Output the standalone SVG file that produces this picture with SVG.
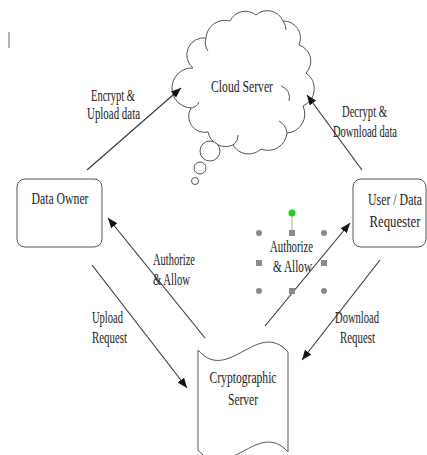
<svg xmlns="http://www.w3.org/2000/svg" width="427" height="455" viewBox="0 0 427 455">
<defs>
<style>
text{font-family:"Liberation Serif","Times New Roman",serif;font-size:16px;fill:#222;text-anchor:middle}
.shape{fill:#fff;stroke:#555;stroke-width:1}
.conn{stroke:#333;stroke-width:1.1;fill:none;marker-end:url(#ah)}
.hc{fill:#8a8a8a}
</style>
<marker id="ah" markerUnits="userSpaceOnUse" markerWidth="10" markerHeight="8" refX="10" refY="4" orient="auto">
<path d="M0,0 L10,4 L0,8 z" fill="#111"/>
</marker>
</defs>
<rect width="427" height="455" fill="#fff"/>
<line x1="9" y1="32" x2="9" y2="48" stroke="#666" stroke-width="1"/>

<g id="cloud-server">
<path class="shape" d="M193,68 A17,17 0 0 1 206,38 A19,19 0 0 1 230,21 A17,17 0 0 1 256,15 A17,17 0 0 1 283,21 A17,17 0 0 1 299,45 A17,17 0 0 1 306,73 A19,19 0 0 1 303,106 A19,19 0 0 1 287,133 A19,19 0 0 1 261,149 A18,18 0 0 1 233,145 A18,18 0 0 1 208,132 A16,16 0 0 1 191,108 A13,13 0 0 1 193,68 Z"/>
<path d="M281,86 A12,12 0 0 1 289,101 M206,38 A15,15 0 0 0 208,51 M191,108 A10,10 0 0 0 199,102 M233,145 A12,12 0 0 0 238,135 M287,133 A16,16 0 0 0 279,121 M283,21 A14,14 0 0 1 286,30" fill="none" stroke="#555" stroke-width="1"/>
<circle class="shape" cx="210" cy="151" r="10"/>
<circle class="shape" cx="200" cy="168" r="6"/>
<circle class="shape" cx="195" cy="181" r="3.5"/>
<text x="242" y="92" textLength="62" lengthAdjust="spacingAndGlyphs">Cloud Server</text>
</g>

<g id="data-owner">
<rect class="shape" x="17" y="179" width="85" height="68" rx="8"/>
<text x="60" y="204" textLength="57" lengthAdjust="spacingAndGlyphs">Data Owner</text>
</g>

<g id="user-data-requester">
<rect class="shape" x="353" y="179" width="73" height="68" rx="8"/>
<text x="395" y="205" textLength="54" lengthAdjust="spacingAndGlyphs">User / Data</text>
<text x="395" y="227" textLength="51" lengthAdjust="spacingAndGlyphs">Requester</text>
</g>

<g id="cryptographic-server">
<path class="shape" d="M198,350 C228,385 258,318 288,352 L288,452 C258,418 228,485 198,450 Z"/>
<text x="243" y="383" textLength="67" lengthAdjust="spacingAndGlyphs">Cryptographic</text>
<text x="243" y="405" textLength="30" lengthAdjust="spacingAndGlyphs">Server</text>
</g>

<g id="connectors">
<line class="conn" x1="87" y1="170" x2="181" y2="88"/>
<line class="conn" x1="362" y1="170" x2="307" y2="95"/>
<line class="conn" x1="205" y1="338" x2="108" y2="218"/>
<line class="conn" x1="265" y1="326" x2="350" y2="223"/>
<line class="conn" x1="92" y1="265" x2="187" y2="388"/>
<line class="conn" x1="380" y1="260" x2="302" y2="360"/>
</g>

<g id="labels">
<text x="113" y="101" textLength="44" lengthAdjust="spacingAndGlyphs">Encrypt &amp;</text>
<text x="113.5" y="119" textLength="53" lengthAdjust="spacingAndGlyphs">Upload data</text>
<text x="364.5" y="117" textLength="45" lengthAdjust="spacingAndGlyphs">Decrypt &amp;</text>
<text x="365" y="137" textLength="64" lengthAdjust="spacingAndGlyphs">Download data</text>
<text x="174" y="265" textLength="42" lengthAdjust="spacingAndGlyphs">Authorize</text>
<text x="171.5" y="285" textLength="37" lengthAdjust="spacingAndGlyphs">&amp; Allow</text>
<text x="107.5" y="323" textLength="31" lengthAdjust="spacingAndGlyphs">Upload</text>
<text x="109.5" y="343" textLength="35" lengthAdjust="spacingAndGlyphs">Request</text>
<text x="357" y="323" textLength="44" lengthAdjust="spacingAndGlyphs">Download</text>
<text x="357.5" y="343" textLength="35" lengthAdjust="spacingAndGlyphs">Request</text>
</g>

<g id="selected-label">
<line x1="292" y1="213" x2="292" y2="230" stroke="#aaa" stroke-width="1"/>
<circle cx="292" cy="213" r="3.5" fill="#22cc22"/>
<circle class="hc" cx="259" cy="233" r="3"/>
<rect class="hc" x="289" y="230" width="6" height="6"/>
<circle class="hc" cx="324" cy="233" r="3"/>
<rect class="hc" x="256" y="260" width="6" height="6"/>
<rect class="hc" x="321" y="260" width="6" height="6"/>
<circle class="hc" cx="259" cy="291" r="3"/>
<rect class="hc" x="289" y="288" width="6" height="6"/>
<circle class="hc" cx="324" cy="291" r="3"/>
<text x="291.5" y="252" textLength="43" lengthAdjust="spacingAndGlyphs">Authorize</text>
<text x="292.5" y="272" textLength="39" lengthAdjust="spacingAndGlyphs">&amp; Allow</text>
</g>
</svg>
